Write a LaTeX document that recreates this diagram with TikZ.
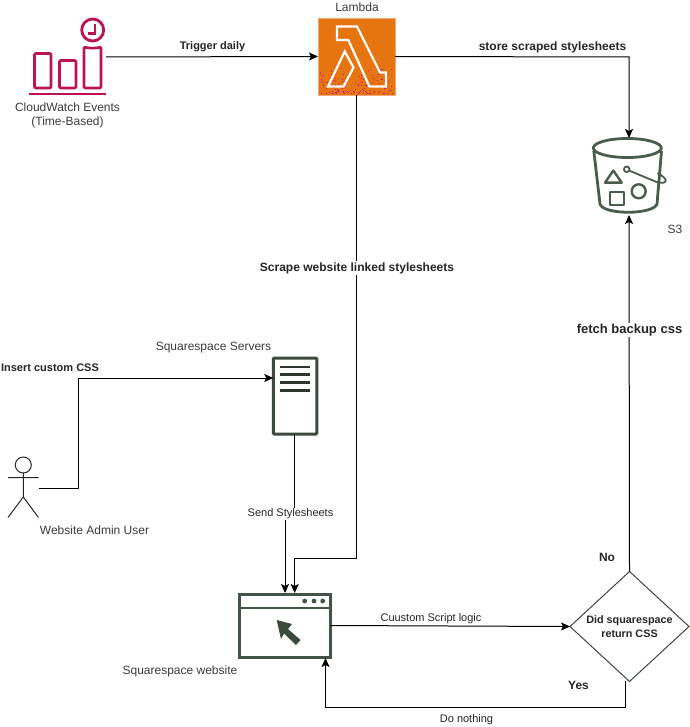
\documentclass[tikz,border=0pt]{standalone}
\usepackage{fontspec}
\setmainfont{Liberation Sans}
\usetikzlibrary{arrows.meta,calc,shapes.geometric}
\definecolor{cwred}{HTML}{BC1356}
\definecolor{lamorange}{HTML}{E7750F}
\definecolor{lamedge}{HTML}{F2A777}
\definecolor{iconGreen}{HTML}{4A5D4C}
\definecolor{dots}{HTML}{C2188F}
\definecolor{labelgrey}{HTML}{3C3C3C}
\tikzset{
  iconbox/.style={inner sep=0pt,outer sep=0pt,minimum width=#1},
  flow/.style={draw=black,line width=1pt,-{Stealth[length=9pt,width=8pt,inset=2pt]}},
  plainlabel/.style={font=\fontsize{12}{14}\selectfont,text=labelgrey,inner sep=0pt,align=center},
  edgelabel/.style={font=\fontsize{12}{14}\selectfont\bfseries,text=black!85,inner sep=1pt,fill=white},
  smalledge/.style={edgelabel,font=\fontsize{11}{13}\selectfont\bfseries},
  smalllabel/.style={font=\fontsize{11}{13}\selectfont,text=black!85,inner sep=1pt,fill=white},
  cwline/.style={draw=cwred,line width=2.6pt,line join=round,rounded corners=1pt},
  bucket/.style={draw=iconGreen,line width=2.8pt,line join=round},
}
\begin{document}
\begin{tikzpicture}[x=1pt,y=-1pt]
\useasboundingbox (0,0) rectangle (689,727);
\fill[white] (0,0) rectangle (689,727);

% anchor boxes of the icons
\node[iconbox=77pt,minimum height=76pt] (cw) at (67.5,57) {};
\node[iconbox=77pt,minimum height=77pt,fill=lamorange,draw=lamedge,line width=0.8pt] (lambda) at (356.5,56.5) {};
\node[iconbox=70pt,minimum height=77pt] (s3) at (629,176.5) {};
\node[iconbox=43.5pt,minimum height=76pt,draw=iconGreen!80!black,line width=3pt,rounded corners=1pt] (server) at (295,396) {};
\node[iconbox=91pt,minimum height=63pt,draw=iconGreen!90!black,line width=3pt] (site) at (284.5,625.5) {};
\node[diamond,draw=iconGreen!80!black,line width=1pt,inner sep=0pt,outer sep=0pt,minimum width=119pt,minimum height=110pt,aspect=1.08] (check) at (629.5,626.5) {};
\node[iconbox=31pt,minimum height=60pt] (actor) at (23.5,487.5) {};

% CloudWatch icon
\draw[cwline] (34.5,53.5) rectangle (51,88);
\draw[cwline] (59.5,60.5) rectangle (76,88);
\draw[cwline] (84,47) .. controls (90,48.5) and (95,48.5) .. (101,47) -- (101,88) -- (84,88) -- cycle;
\draw[draw=cwred,line width=2.8pt] (92.7,30) circle (11);
\draw[draw=cwred,line width=2.4pt] (95,24) -- (95,33.5) -- (88,33.5);
\draw[draw=cwred,line width=2.4pt] (29,94) -- (106,94);

% Lambda icon
\pgfmathsetseed{11}
\foreach \i in {1,...,130}{
  \pgfmathsetmacro{\dx}{320+73*rnd}
  \pgfmathsetmacro{\dy}{93.5-26*rnd^1.5}
  \fill[dots] (\dx,\dy) rectangle ++(0.9,0.9);
}
\draw[white,line width=2.2pt,line join=miter]
  (337,26.5) -- (357,26.5) -- (380,72.5) -- (386,72.5) -- (386,86.5) -- (369.5,86.5) -- (348.3,40) -- (337,40) -- cycle;
\draw[white,line width=2.2pt,line join=miter]
  (344.7,51.5) -- (353.5,67.5) -- (343.5,86.5) -- (328,86.5) -- cycle;

% S3 icon
\draw[bucket] (627.3,148) ellipse (34 and 9.5);
\draw[bucket] (593.8,151) -- (600,204) .. controls (603,215) and (653,215) .. (657,204) -- (661.5,151);
\draw[bucket,line width=2.4pt] (613.3,170.5) -- (605,182.7) -- (621.7,182.7) -- cycle;
\draw[bucket,line width=2.4pt] (610,192) rectangle (624,205);
\draw[bucket,line width=2.4pt] (638.7,191.3) circle (7);
\draw[bucket,line width=1.8pt] (626.7,169.3) circle (2.8);
\draw[bucket,line width=1.8pt] (629,170.5) -- (656.5,182) .. controls (668,185) and (669,179) .. (657.5,173);

% Server icon
\foreach \ly in {367,374.7,382.5,390.2}{
  \draw[iconGreen!60!black,line width=2.6pt] (280,\ly) -- (310,\ly);
}

% Website icon
\draw[iconGreen!90!black,line width=2.2pt] (site.west |- 0,608) -- (site.east |- 0,608);
\foreach \dotx in {304.7,314,322.7}{
  \fill[iconGreen!90!black] (\dotx,601) circle (2.4);
}
\fill[iconGreen!80!black] (276.7,620) -- (292,624) -- (288,629) -- (300.5,640) -- (296,645) -- (284,633.5) -- (281,639) -- cycle;

% Actor
\draw[black!85,line width=1pt] (23.3,465) circle (8);
\draw[black!85,line width=1pt] (23.3,473) -- (23.3,497) (8,477.5) -- (38.5,477.5) (8,517.5) -- (23.3,497) -- (38.5,517.5);

% Connector end points
\coordinate (bendA) at (78,488);
\coordinate (bendB) at (78,378);
\coordinate (lamTurn) at (356.5,558);
\coordinate (siteTopR) at (294.7,558);
\coordinate (siteIn1) at (285,593);
\coordinate (siteIn2) at (294.7,593);
\coordinate (srvOut) at (294.7,434);
\coordinate (srvMidA) at (294.7,514);
\coordinate (srvMidB) at (285,514);
\coordinate (yesOut) at (625.5,681);
\coordinate (yesTurnA) at (625.5,707);
\coordinate (yesTurnB) at (325.5,707);
\coordinate (yesIn) at (325.5,658);
\coordinate (s3TopTurn) at (629,57);

% Connectors
\draw[flow] (cw.east) -- (lambda.west);
\draw[flow] (lambda.east) -- (s3TopTurn) -- (s3.north);
\draw[flow] (lambda.south) -- (lamTurn) -- (siteTopR) -- (siteIn2);
\draw[flow] (actor.east |- bendA) -- (bendA) -- (bendB) -- (server.west |- bendB);
\draw[flow] (srvOut) -- (srvMidA) -- (srvMidB) -- (siteIn1);
\draw[flow] (site.east) -- (check.west);
\draw[flow] (check.north) -- (s3.south);
\draw[flow] (yesOut) -- (yesTurnA) -- (yesTurnB) -- (yesIn);

% Labels
\node[plainlabel] (cwlabel) at (67.5,115.5) {CloudWatch Events\\(Time-Based)};
\node[plainlabel] (lamlabel) at (357,7.5) {Lambda};
\node[plainlabel] (s3label) at (675,229) {S3};
\node[plainlabel] (srvlabel) at (213.5,348) {Squarespace Servers};
\node[plainlabel] (actlabel) at (94.5,530.5) {Website Admin User};
\node[plainlabel] (sitelabel) at (180,671.5) {Squarespace website};

\node[smalledge] (l1) at (212.5,47) {Trigger daily};
\node[edgelabel] (l2) at (552.5,47.5) {store scraped stylesheets};
\node[edgelabel] (l3) at (357,268) {Scrape website linked stylesheets};
\node[smalledge,fill=none] (l4) at (50,368) {Insert custom CSS};
\node[smalllabel] (l5) at (290.5,514) {Send Stylesheets};
\node[smalllabel,fill=none] (l6) at (431,618.5) {Cuustom Script logic};
\node[smalllabel,fill=none] (l7) at (466.5,720) {Do nothing};
\node[edgelabel,font=\fontsize{13}{15}\selectfont\bfseries] (l8) at (629.5,330) {fetch backup css};
\node[edgelabel,fill=none] (l9) at (607,557.5) {No};
\node[edgelabel,fill=none] (l10) at (578.5,685) {Yes};
\node[edgelabel,fill=none,align=center,font=\fontsize{10.8}{14}\selectfont\bfseries] (l11) at (629.5,627) {Did squarespace\\return CSS};
\end{tikzpicture}
\end{document}
